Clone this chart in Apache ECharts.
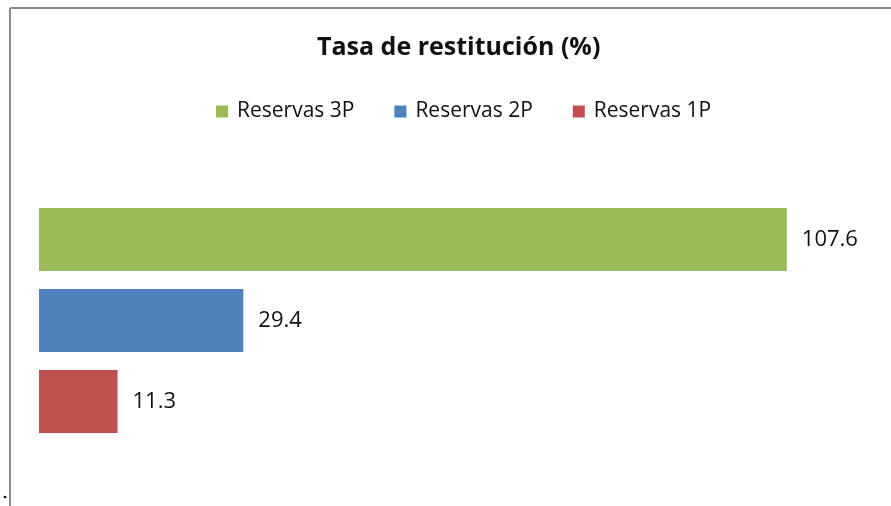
<!DOCTYPE html>
<html>
<head>
<meta charset="utf-8">
<script src="https://cdn.jsdelivr.net/npm/echarts@6/dist/echarts.min.js"></script>
<style>
  html, body { margin: 0; padding: 0; background: #fff; }
  #chart { width: 891px; height: 506px; }
</style>
</head>
<body>
<div id="chart"></div>
<script>
var categories = ['Tasa de restitución'];
var seriesNames = ['Reservas 3P', 'Reservas 2P', 'Reservas 1P'];
var seriesValues = [[107.6], [29.4], [11.3]];
var seriesColors = ['#9bbb59', '#4f81bd', '#c0504d'];

var myChart = echarts.init(document.getElementById('chart'));

var font = 'Open Sans';

var series = seriesNames.map(function (name, i) {
  return {
    name: name,
    type: 'bar',
    data: seriesValues[i],
    barWidth: 63,
    barGap: '28.6%',
    itemStyle: { color: seriesColors[i] },
    label: {
      show: true,
      position: 'right',
      distance: 15,
      color: '#111',
      fontSize: 22,
      fontFamily: font,
      padding: [4, 0, 0, 0],
      formatter: function (p) { return p.value.toFixed(1); }
    }
  };
});

var option = {
  animation: false,
  backgroundColor: '#fff',
  title: {
    text: 'Tasa de restitución (%)',
    left: 312,
    top: 30,
    textStyle: { fontSize: 25, fontWeight: 'bold', fontFamily: font, color: '#111' }
  },
  legend: {
    top: 96,
    left: 211,
    itemWidth: 12,
    itemHeight: 12,
    itemGap: 40,
    icon: 'rect',
    textStyle: { fontSize: 21, fontFamily: font, color: '#111', padding: [0, 0, 0, 4] },
    data: seriesNames
  },
  grid: { left: 39, top: 208, width: 834, height: 225 },
  xAxis: {
    type: 'value',
    min: 0,
    max: 120,
    show: false
  },
  yAxis: {
    type: 'category',
    data: categories,
    inverse: true,
    show: false
  },
  graphic: [
    { type: 'line', shape: { x1: 10, y1: 8, x2: 10, y2: 506 }, style: { stroke: '#8c8c8c', lineWidth: 2 } },
    { type: 'line', shape: { x1: 10, y1: 8, x2: 891, y2: 8 }, style: { stroke: '#8c8c8c', lineWidth: 2 } },
    { type: 'circle', shape: { cx: 5, cy: 497, r: 1.3 }, style: { fill: '#000' } }
  ],
  series: series
};

myChart.setOption(option);
window.addEventListener('resize', function () {
  myChart.resize();
});
</script>
</body>
</html>
